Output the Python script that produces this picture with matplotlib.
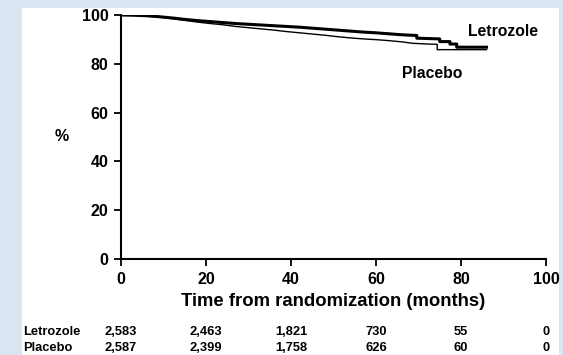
import matplotlib
matplotlib.use("Agg")
import matplotlib.pyplot as plt
from matplotlib.patches import Rectangle

plt.rcParams['font.family'] = ['Liberation Sans', 'DejaVu Sans']
plt.rcParams['font.weight'] = 'bold'

# Kaplan-Meier style data (months, % event-free); repeated times mark visible steps
letrozole_t = [0, 3, 6, 9, 12, 15, 18, 21, 24, 27, 30, 33, 36, 39, 42, 45, 48, 51, 54, 57, 60, 63, 66,
               69.6, 69.6, 75, 75, 77.4, 77.4, 79, 79, 86]
letrozole_s = [100, 99.9, 99.7, 99.3, 98.8, 98.2, 97.7, 97.3, 96.9, 96.5, 96.2, 95.9, 95.6, 95.3, 95.0,
               94.6, 94.2, 93.8, 93.4, 93.0, 92.7, 92.3, 91.9,
               91.6, 90.5, 90.2, 89.1, 89.1, 88.1, 88.1, 86.8, 86.8]
placebo_t = [0, 3, 6, 9, 12, 15, 18, 21, 24, 27, 30, 33, 36, 39, 42, 45, 48, 51, 54, 57, 60, 63, 66,
             68.7, 72, 74.4, 74.4, 86]
placebo_s = [100, 99.9, 99.6, 99.1, 98.5, 97.8, 97.1, 96.5, 96.0, 95.3, 94.8, 94.3, 93.8, 93.2, 92.7,
             92.2, 91.7, 91.1, 90.6, 90.2, 89.9, 89.5, 89.0,
             88.4, 88.1, 88.0, 85.8, 85.8]

xticks = [0, 20, 40, 60, 80, 100]
yticks = [0, 20, 40, 60, 80, 100]
groups = ['Letrozole', 'Placebo']
at_risk_letrozole = ['2,583', '2,463', '1,821', '730', '55', '0']
at_risk_placebo = ['2,587', '2,399', '1,758', '626', '60', '0']

W, H = 563, 355
fig = plt.figure(figsize=(W / 100, H / 100), dpi=100)
fig.patch.set_facecolor('#dbe4f1')
fig.patches.append(Rectangle((22 / W, 0), (559 - 22) / W, (H - 8) / H,
                             transform=fig.transFigure, facecolor='white',
                             edgecolor='none', zorder=-10))

ax = fig.add_axes([121 / W, 1 - 259 / H, (546 - 121) / W, (259 - 15) / H])
ax.set_zorder(5)
ax.set_facecolor('none')

ax.plot(placebo_t, placebo_s, color='black', lw=1.0, zorder=3)
ax.plot(letrozole_t, letrozole_s, color='black', lw=2.2, zorder=4)

ax.set_xlim(0, 100)
ax.set_ylim(0, 100)
ax.set_xticks(xticks)
ax.set_yticks(yticks)
ax.tick_params(direction='out', length=5, width=1.3, labelsize=11.5, pad=4)
for lab in ax.get_xticklabels() + ax.get_yticklabels():
    lab.set_fontweight('bold')
for s in ['top', 'right']:
    ax.spines[s].set_visible(False)
for s in ['left', 'bottom']:
    ax.spines[s].set_linewidth(1.5)

ax.set_xlabel('Time from randomization (months)', fontsize=13.3, fontweight='bold', labelpad=5)

fig.text(62 / W, 1 - 137 / H, '%', fontsize=11.5, fontweight='bold', ha='center', va='center')

# curve labels
fig.text(468 / W, 1 - 32 / H, 'Letrozole', fontsize=11.3, fontweight='bold', ha='left', va='center')
fig.text(402 / W, 1 - 74 / H, 'Placebo', fontsize=11.3, fontweight='bold', ha='left', va='center')

# numbers at risk, aligned under the x ticks
blend = matplotlib.transforms.blended_transform_factory(ax.transData, fig.transFigure)
for row_y, name, vals in [(1 - 332 / H, groups[0], at_risk_letrozole),
                          (1 - 348 / H, groups[1], at_risk_placebo)]:
    fig.text(23 / W, row_y, name, fontsize=9.3, fontweight='bold', ha='left', va='center')
    for xv, v in zip(xticks, vals):
        ax.text(xv, row_y, v, fontsize=9.3, fontweight='bold', ha='center', va='center',
                transform=blend, clip_on=False)

fig.savefig('out.png', dpi=100, facecolor=fig.get_facecolor())
